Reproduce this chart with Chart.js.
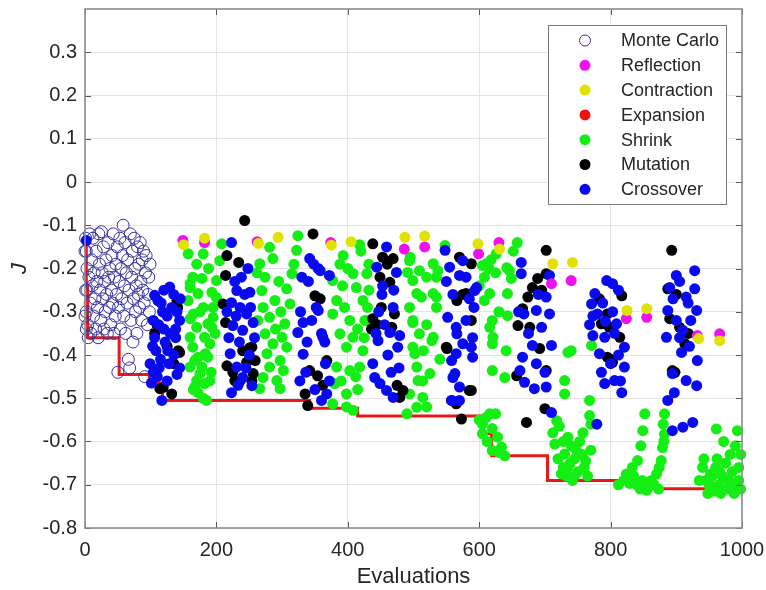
<!DOCTYPE html>
<html>
<head>
<meta charset="utf-8">
<script src="https://cdn.jsdelivr.net/npm/chart.js@4.4.1/dist/chart.umd.min.js"></script>
<style>
  html, body { margin: 0; padding: 0; background: #ffffff; }
  #wrap { width: 766px; height: 590px; }
</style>
</head>
<body>
<div id="wrap"><canvas id="c" width="766" height="590"></canvas></div>
<script>
// ---- Axis ticks ----
const xTicks = [0, 200, 400, 600, 800, 1000];
const yTicks = [-0.8, -0.7, -0.6, -0.5, -0.4, -0.3, -0.2, -0.1, 0, 0.1, 0.2, 0.3];
const yMin = -0.8, yMax = 0.4;

// ---- Best-so-far objective (step outline) ----
const bestSoFar = [
  [2,-0.135],[2,-0.24],[4,-0.24],[4,-0.36],[52,-0.36],[52,-0.445],[98,-0.445],[98,-0.465],
  [118,-0.465],[118,-0.505],[342,-0.505],[342,-0.523],[415,-0.523],[415,-0.541],[604,-0.541],
  [604,-0.582],[619,-0.582],[619,-0.633],[704,-0.633],[704,-0.69],[842,-0.69],[842,-0.709],[1000,-0.709]
];

// ---- Monte Carlo samples ----
const monteCarlo = [
  [0,-0.16],[1,-0.25],[0,-0.31],[2,-0.34],
  [1,-0.13],[2,-0.16],[3,-0.20],[3,-0.25],[2,-0.30],[4,-0.33],[5,-0.36],[6,-0.22],[7,-0.12],[8,-0.28],
  [9,-0.35],[10,-0.18],[11,-0.24],[12,-0.13],[13,-0.31],[14,-0.21],[15,-0.27],[16,-0.34],[17,-0.16],
  [18,-0.23],[19,-0.29],[20,-0.36],[21,-0.12],[22,-0.19],[23,-0.25],[24,-0.32],[25,-0.115],[26,-0.21],
  [27,-0.27],[28,-0.15],[29,-0.34],[30,-0.23],[31,-0.30],[32,-0.18],[33,-0.26],[34,-0.35],[35,-0.14],
  [36,-0.22],[37,-0.29],[38,-0.20],[39,-0.33],[40,-0.25],[41,-0.17],[42,-0.28],[43,-0.12],[44,-0.35],
  [45,-0.22],[46,-0.31],[47,-0.19],[48,-0.26],[49,-0.15],[50,-0.44],[51,-0.29],[52,-0.23],[53,-0.13],
  [54,-0.34],[55,-0.20],[56,-0.27],[57,-0.17],[58,-0.10],[59,-0.31],[60,-0.24],[61,-0.14],[62,-0.35],
  [63,-0.21],[64,-0.28],[65,-0.18],[66,-0.41],[67,-0.25],[68,-0.43],[69,-0.12],[70,-0.32],[71,-0.22],
  [72,-0.16],[73,-0.37],[74,-0.27],[75,-0.13],[76,-0.20],[77,-0.30],[78,-0.24],[79,-0.35],[80,-0.15],
  [81,-0.26],[82,-0.19],[83,-0.29],[84,-0.14],[85,-0.23],[86,-0.32],[87,-0.18],[88,-0.25],[89,-0.16],
  [90,-0.28],[91,-0.45],[92,-0.21],[93,-0.17],[95,-0.33],[96,-0.26],[97,-0.22],[98,-0.30],[99,-0.19]
];

// ---- Simplex / GA operations ----
const reflection = [
  [149,-0.135],[182,-0.14],[262,-0.138],[374,-0.14],[486,-0.155],[517,-0.15],[599,-0.166],
  [630,-0.14],[710,-0.235],[740,-0.228],[824,-0.316],[855,-0.313],[932,-0.355],[966,-0.351]
];
const contraction = [
  [150,-0.145],[182,-0.13],[264,-0.142],[294,-0.128],[375,-0.146],[405,-0.138],[487,-0.128],
  [517,-0.125],[598,-0.143],[631,-0.155],[712,-0.189],[742,-0.186],[825,-0.297],[855,-0.293],
  [934,-0.362],[966,-0.367]
];
const expansion = [];
const shrink = [
  // 150-210
  [157,-0.166],[180,-0.166],[208,-0.143],[205,-0.182],[164,-0.22],[178,-0.223],[160,-0.244],[172,-0.258],
  [193,-0.255],[200,-0.228],[157,-0.274],[180,-0.29],[195,-0.29],[160,-0.316],[170,-0.336],[187,-0.328],
  [160,-0.359],[182,-0.359],[190,-0.374],[164,-0.382],[172,-0.405],[187,-0.405],[160,-0.428],[178,-0.428],
  [192,-0.44],[170,-0.459],[182,-0.466],[172,-0.487],[185,-0.505],[160,-0.235],[165,-0.305],[175,-0.3],
  [200,-0.267],[195,-0.313],[193,-0.336],[183,-0.397],[167,-0.413],[175,-0.443],[167,-0.474],[180,-0.5],
  [188,-0.2],[170,-0.19],[198,-0.35],[165,-0.48],[190,-0.46],
  // 255-330
  [281,-0.151],[322,-0.158],[266,-0.189],[286,-0.177],[274,-0.22],[315,-0.212],[295,-0.23],[269,-0.251],
  [307,-0.247],[289,-0.274],[271,-0.29],[312,-0.282],[298,-0.3],[281,-0.313],[304,-0.328],[290,-0.34],
  [274,-0.351],[300,-0.359],[286,-0.374],[307,-0.382],[277,-0.397],[297,-0.413],[281,-0.428],[302,-0.436],
  [271,-0.452],[292,-0.459],[266,-0.478],[297,-0.478],[324,-0.124],[262,-0.21],[318,-0.19],[263,-0.32],
  // 375-435
  [388,-0.19],[400,-0.2],[377,-0.228],[392,-0.24],[408,-0.212],[413,-0.244],[383,-0.274],[395,-0.29],
  [403,-0.32],[377,-0.305],[423,-0.274],[426,-0.32],[388,-0.351],[408,-0.359],[398,-0.382],[415,-0.34],
  [423,-0.39],[383,-0.428],[403,-0.436],[412,-0.45],[380,-0.466],[398,-0.49],[408,-0.528],[377,-0.513],
  [429,-0.212],[432,-0.25],[430,-0.29],[429,-0.32],[425,-0.36],[418,-0.428],[420,-0.16],[393,-0.17],
  [398,-0.52],[390,-0.46],[415,-0.48],[432,-0.19],[418,-0.145],
  // 480-550
  [494,-0.182],[509,-0.205],[499,-0.228],[520,-0.22],[530,-0.189],[535,-0.22],[505,-0.258],[530,-0.258],
  [494,-0.29],[512,-0.266],[535,-0.29],[499,-0.32],[520,-0.33],[509,-0.351],[530,-0.359],[499,-0.382],
  [515,-0.39],[505,-0.428],[525,-0.443],[514,-0.46],[494,-0.49],[514,-0.498],[505,-0.521],[520,-0.52],
  [490,-0.536],[491,-0.209],[537,-0.205],[535,-0.266],[499,-0.325],[528,-0.367],[502,-0.397],[507,-0.459],
  [548,-0.147],[495,-0.174],[540,-0.41],
  // 595-660
  [658,-0.14],[605,-0.193],[615,-0.2],[625,-0.21],[611,-0.189],[626,-0.166],[642,-0.198],[646,-0.205],
  [649,-0.223],[608,-0.22],[643,-0.258],[616,-0.258],[608,-0.274],[620,-0.32],[643,-0.309],[616,-0.336],
  [621,-0.359],[620,-0.374],[641,-0.39],[620,-0.436],[639,-0.452],[630,-0.3],[600,-0.24],[652,-0.16],[618,-0.18],
  [611,-0.544],[616,-0.536],[625,-0.536],[605,-0.56],[605,-0.582],[620,-0.57],[628,-0.59],[634,-0.613],
  [620,-0.621],[639,-0.633],[612,-0.6],[630,-0.625],[600,-0.55],
  // 700-775
  [735,-0.394],[740,-0.39],[730,-0.459],[730,-0.49],[771,-0.378],[768,-0.505],[768,-0.54],[770,-0.56],
  [718,-0.552],[722,-0.565],[715,-0.606],[735,-0.59],[730,-0.629],[738,-0.651],[725,-0.675],[742,-0.69],
  [735,-0.66],[712,-0.58],[728,-0.6],[745,-0.64],[750,-0.67],[740,-0.61],[720,-0.64],[733,-0.68],
  [753,-0.6],[757,-0.63],[760,-0.66],[765,-0.68],[758,-0.58],[748,-0.62],[770,-0.62],[762,-0.645],
  [745,-0.68],[728,-0.66],
  // 810-885
  [852,-0.536],[849,-0.575],[846,-0.61],[841,-0.644],[833,-0.66],[824,-0.675],[829,-0.697],[840,-0.7],
  [856,-0.706],[862,-0.69],[870,-0.675],[877,-0.644],[879,-0.614],[882,-0.583],[882,-0.536],[855,-0.713],
  [820,-0.69],[835,-0.68],[848,-0.69],[866,-0.7],[874,-0.66],[880,-0.56],[812,-0.7],[845,-0.71],
  [873,-0.71],[881,-0.6],
  // 930-1000
  [961,-0.571],[993,-0.575],[940,-0.66],[945,-0.69],[950,-0.7],[955,-0.68],[960,-0.66],[965,-0.7],
  [970,-0.68],[975,-0.65],[980,-0.69],[985,-0.67],[990,-0.7],[995,-0.66],[998,-0.63],[935,-0.69],
  [948,-0.72],[958,-0.715],[968,-0.72],[978,-0.71],[988,-0.72],[998,-0.71],[942,-0.64],[962,-0.64],
  [982,-0.63],[990,-0.61],[972,-0.6],[952,-0.675],[966,-0.67],[995,-0.69]
];
const mutation = [
  [106,-0.35],[141,-0.29],[144,-0.394],[114,-0.478],[132,-0.49],[140,-0.274],[142,-0.39],[119,-0.475],
  [125,-0.38],[135,-0.42],[110,-0.33],
  [243,-0.089],[216,-0.17],[234,-0.186],[214,-0.216],[210,-0.282],[214,-0.325],[240,-0.39],[254,-0.382],
  [216,-0.425],[246,-0.417],[256,-0.443],[228,-0.459],[251,-0.383],[259,-0.413],[254,-0.46],[236,-0.46],[225,-0.44],
  [347,-0.12],[350,-0.263],[342,-0.436],[368,-0.413],[354,-0.448],[339,-0.517],[362,-0.47],[335,-0.49],[358,-0.27],
  [438,-0.143],[453,-0.174],[469,-0.177],[449,-0.22],[464,-0.232],[451,-0.29],[471,-0.305],[438,-0.316],
  [436,-0.34],[467,-0.336],[484,-0.482],[479,-0.498],[460,-0.19],[445,-0.33],[475,-0.47],
  [570,-0.174],[580,-0.258],[566,-0.274],[551,-0.385],[558,-0.505],[550,-0.382],[585,-0.482],[565,-0.513],
  [573,-0.548],[588,-0.189],[588,-0.32],[588,-0.482],[575,-0.26],
  [702,-0.158],[689,-0.223],[681,-0.244],[674,-0.266],[666,-0.293],[659,-0.332],[677,-0.336],[692,-0.385],
  [702,-0.436],[657,-0.448],[672,-0.556],[700,-0.524],[702,-0.212],[695,-0.25],
  [817,-0.263],[783,-0.27],[795,-0.305],[786,-0.328],[798,-0.336],[814,-0.359],[795,-0.405],[803,-0.417],[800,-0.41],
  [893,-0.158],[887,-0.247],[890,-0.316],[905,-0.336],[913,-0.374],[894,-0.436],[898,-0.44],[900,-0.26],[918,-0.35]
];
const crossover = [
  [2,-0.135],
  [101,-0.465],[117,-0.505],[99,-0.42],[104,-0.44],[111,-0.274],[129,-0.243],[120,-0.25],[135,-0.26],
  [144,-0.32],[106,-0.36],[144,-0.43],[118,-0.3],[125,-0.31],[112,-0.33],[130,-0.35],[138,-0.36],
  [108,-0.39],[122,-0.37],[135,-0.4],[115,-0.41],[128,-0.42],[140,-0.445],[110,-0.45],[125,-0.46],
  [103,-0.38],[116,-0.28],[132,-0.29],[140,-0.3],[104,-0.32],[120,-0.34],[126,-0.39],[138,-0.34],
  [113,-0.43],[145,-0.27],[106,-0.262],
  [223,-0.14],[248,-0.2],[231,-0.251],[251,-0.255],[223,-0.279],[236,-0.29],[246,-0.305],[225,-0.332],
  [240,-0.343],[256,-0.325],[221,-0.397],[231,-0.428],[240,-0.452],[223,-0.487],[254,-0.471],[238,-0.22],
  [230,-0.31],[252,-0.29],[219,-0.36],[235,-0.37],[250,-0.4],[228,-0.23],[243,-0.26],[216,-0.3],
  [258,-0.36],[233,-0.47],[245,-0.43],
  [342,-0.177],[348,-0.19],[330,-0.22],[355,-0.2],[372,-0.216],[352,-0.29],[332,-0.325],[324,-0.348],
  [360,-0.35],[332,-0.398],[327,-0.46],[372,-0.46],[360,-0.505],[355,-0.297],[362,-0.359],[340,-0.23],
  [365,-0.37],[336,-0.44],[350,-0.48],[368,-0.49],[345,-0.32],[358,-0.205],[328,-0.30],[366,-0.42],[338,-0.37],
  [459,-0.15],[444,-0.197],[474,-0.209],[469,-0.29],[464,-0.348],[479,-0.355],[446,-0.367],[476,-0.382],
  [461,-0.4],[438,-0.42],[441,-0.452],[449,-0.466],[459,-0.482],[469,-0.498],[452,-0.26],[470,-0.25],
  [456,-0.33],[447,-0.3],[478,-0.43],[466,-0.44],[453,-0.24],[443,-0.35],
  [548,-0.158],[555,-0.197],[570,-0.216],[575,-0.182],[580,-0.22],[596,-0.244],[552,-0.313],[565,-0.336],
  [580,-0.32],[588,-0.382],[590,-0.405],[565,-0.397],[558,-0.413],[560,-0.452],[570,-0.474],[558,-0.505],
  [566,-0.351],[575,-0.374],[563,-0.443],[570,-0.505],[593,-0.251],[592,-0.29],[590,-0.36],
  [585,-0.27],[550,-0.23],[560,-0.26],
  [664,-0.186],[664,-0.212],[707,-0.216],[702,-0.266],[707,-0.305],[687,-0.297],[660,-0.3],[668,-0.305],
  [695,-0.336],[681,-0.378],[710,-0.378],[666,-0.405],[687,-0.42],[662,-0.436],[669,-0.463],[684,-0.478],
  [702,-0.474],[710,-0.533],[690,-0.26],[675,-0.35],[700,-0.44],
  [794,-0.228],[803,-0.235],[776,-0.258],[812,-0.25],[771,-0.282],[788,-0.28],[780,-0.305],[803,-0.3],
  [773,-0.31],[792,-0.322],[809,-0.328],[773,-0.355],[791,-0.359],[806,-0.35],[821,-0.382],[783,-0.397],
  [821,-0.428],[786,-0.44],[791,-0.466],[806,-0.459],[815,-0.46],[817,-0.487],[779,-0.56],[800,-0.42],
  [768,-0.33],[812,-0.40],
  [928,-0.205],[900,-0.216],[905,-0.23],[890,-0.244],[928,-0.247],[915,-0.266],[887,-0.297],[931,-0.297],
  [900,-0.32],[922,-0.32],[910,-0.343],[885,-0.359],[905,-0.36],[908,-0.394],[932,-0.413],[894,-0.443],
  [915,-0.459],[931,-0.471],[897,-0.487],[887,-0.505],[894,-0.575],[910,-0.567],[925,-0.556],[918,-0.28],
  [895,-0.27],[920,-0.38]
];

// ---- Styling ----
const FONT = "'Liberation Sans', Arial, Helvetica, sans-serif";
const TEXT = '#262626';
const COLORS = {
  mc: '#33339e', reflection: '#f010f0', contraction: '#e2e200', expansion: '#f01010',
  shrink: '#14ee14', mutation: '#000000', crossover: '#0a0af0', best: '#e81818'
};
const DOT = 5.5;

const toXY = arr => arr.map(p => ({ x: p[0], y: p[1] }));
const dotSet = (label, data, color, order) => ({
  label, data: toXY(data), order, clip: false,
  pointRadius: DOT, pointHoverRadius: DOT, pointBorderWidth: 0,
  backgroundColor: color, borderColor: color, showLine: false
});

const datasets = [
  { label: 'best', data: toXY(bestSoFar), showLine: true, borderColor: COLORS.best, borderWidth: 3,
    pointRadius: 0, fill: false, order: 20, clip: false },
  { label: 'Monte Carlo', data: toXY(monteCarlo), order: 19, clip: false, showLine: false,
    pointRadius: 6, pointHoverRadius: 6, pointBorderWidth: 1,
    backgroundColor: 'rgba(0,0,0,0)', borderColor: COLORS.mc },
  dotSet('Shrink', shrink, COLORS.shrink, 15),
  dotSet('Mutation', mutation, COLORS.mutation, 14),
  dotSet('Crossover', crossover, COLORS.crossover, 13),
  dotSet('Expansion', expansion, COLORS.expansion, 12),
  dotSet('Reflection', reflection, COLORS.reflection, 11),
  dotSet('Contraction', contraction, COLORS.contraction, 10)
];

const legendOrder = ['Monte Carlo', 'Reflection', 'Contraction', 'Expansion', 'Shrink', 'Mutation', 'Crossover'];

// Box frame, inward tick marks and the boxed legend
const framePlugin = {
  id: 'frame',
  afterDraw(chart) {
    const { ctx, chartArea: a, scales } = chart;
    ctx.save();
    ctx.strokeStyle = '#5a5a5a';
    ctx.lineWidth = 1;
    const tl = 6;
    scales.y.ticks.forEach(t => {
      const py = Math.round(scales.y.getPixelForValue(t.value)) + 0.5;
      ctx.beginPath();
      ctx.moveTo(a.left, py); ctx.lineTo(a.left + tl, py);
      ctx.moveTo(a.right, py); ctx.lineTo(a.right - tl, py);
      ctx.stroke();
    });
    scales.x.ticks.forEach(t => {
      const px = Math.round(scales.x.getPixelForValue(t.value)) + 0.5;
      ctx.beginPath();
      ctx.moveTo(px, a.bottom); ctx.lineTo(px, a.bottom - tl);
      ctx.moveTo(px, a.top); ctx.lineTo(px, a.top + tl);
      ctx.stroke();
    });
    ctx.strokeStyle = '#8c8c8c';
    ctx.lineWidth = 1.6;
    ctx.strokeRect(a.left, a.top, a.right - a.left, a.bottom - a.top);

    // legend
    const L = { x: 548, y: 25, w: 178, h: 179, row: 24.8, first: 40.5, mx: 585, tx: 621 };
    ctx.fillStyle = '#ffffff';
    ctx.fillRect(L.x, L.y, L.w, L.h);
    ctx.strokeStyle = '#7a7a7a';
    ctx.lineWidth = 1;
    ctx.strokeRect(L.x + 0.5, L.y + 0.5, L.w, L.h);
    ctx.font = '18px ' + FONT;
    ctx.textBaseline = 'middle';
    ctx.textAlign = 'left';
    legendOrder.forEach((name, i) => {
      const ds = chart.data.datasets.find(d => d.label === name);
      const cy = L.first + i * L.row;
      ctx.beginPath();
      if (name === 'Monte Carlo') {
        ctx.arc(L.mx, cy, 5.5, 0, Math.PI * 2);
        ctx.strokeStyle = ds.borderColor; ctx.lineWidth = 1; ctx.stroke();
      } else {
        ctx.arc(L.mx, cy, DOT, 0, Math.PI * 2);
        ctx.fillStyle = ds.backgroundColor; ctx.fill();
      }
      ctx.fillStyle = TEXT;
      ctx.fillText(name, L.tx, cy + 1);
    });
    ctx.restore();
  }
};

const fmtY = v => {
  const r = Math.round(v * 10) / 10;
  return r === 0 ? '0' : r.toFixed(1);
};

new Chart(document.getElementById('c'), {
  type: 'scatter',
  data: { datasets },
  options: {
    responsive: false,
    animation: false,
    devicePixelRatio: 1,
    layout: { padding: { left: 0, top: 9, right: 24, bottom: 0 } },
    plugins: { legend: { display: false }, tooltip: { enabled: false } },
    events: [],
    scales: {
      x: {
        type: 'linear', min: 0, max: 1000,
        afterBuildTicks: s => { s.ticks = xTicks.map(v => ({ value: v })); },
        afterFit: s => { s.height = 62; s.paddingLeft = 0; s.paddingRight = 0; },
        grid: { color: '#e4e4e4', lineWidth: 1, drawTicks: false },
        border: { display: false },
        ticks: { padding: 10, color: TEXT, font: { family: FONT, size: 20 }, maxRotation: 0,
                 callback: v => String(v) },
        title: { display: true, text: 'Evaluations', color: TEXT, font: { family: FONT, size: 22 },
                 padding: { top: 2, bottom: 0 } }
      },
      y: {
        type: 'linear', min: yMin, max: yMax,
        afterBuildTicks: s => { s.ticks = yTicks.map(v => ({ value: v })); },
        ticks: { padding: 8, color: TEXT, font: { family: FONT, size: 20 }, callback: fmtY },
        afterFit: s => { s.width = 85; s.paddingTop = 0; s.paddingBottom = 0; },
        grid: { color: '#e4e4e4', lineWidth: 1, drawTicks: false },
        border: { display: false },
        title: { display: true, text: 'J', color: TEXT,
                 font: { family: FONT, size: 22, style: 'italic' }, padding: { top: 7, bottom: 0 } }
      }
    }
  },
  plugins: [framePlugin]
});
</script>
</body>
</html>
